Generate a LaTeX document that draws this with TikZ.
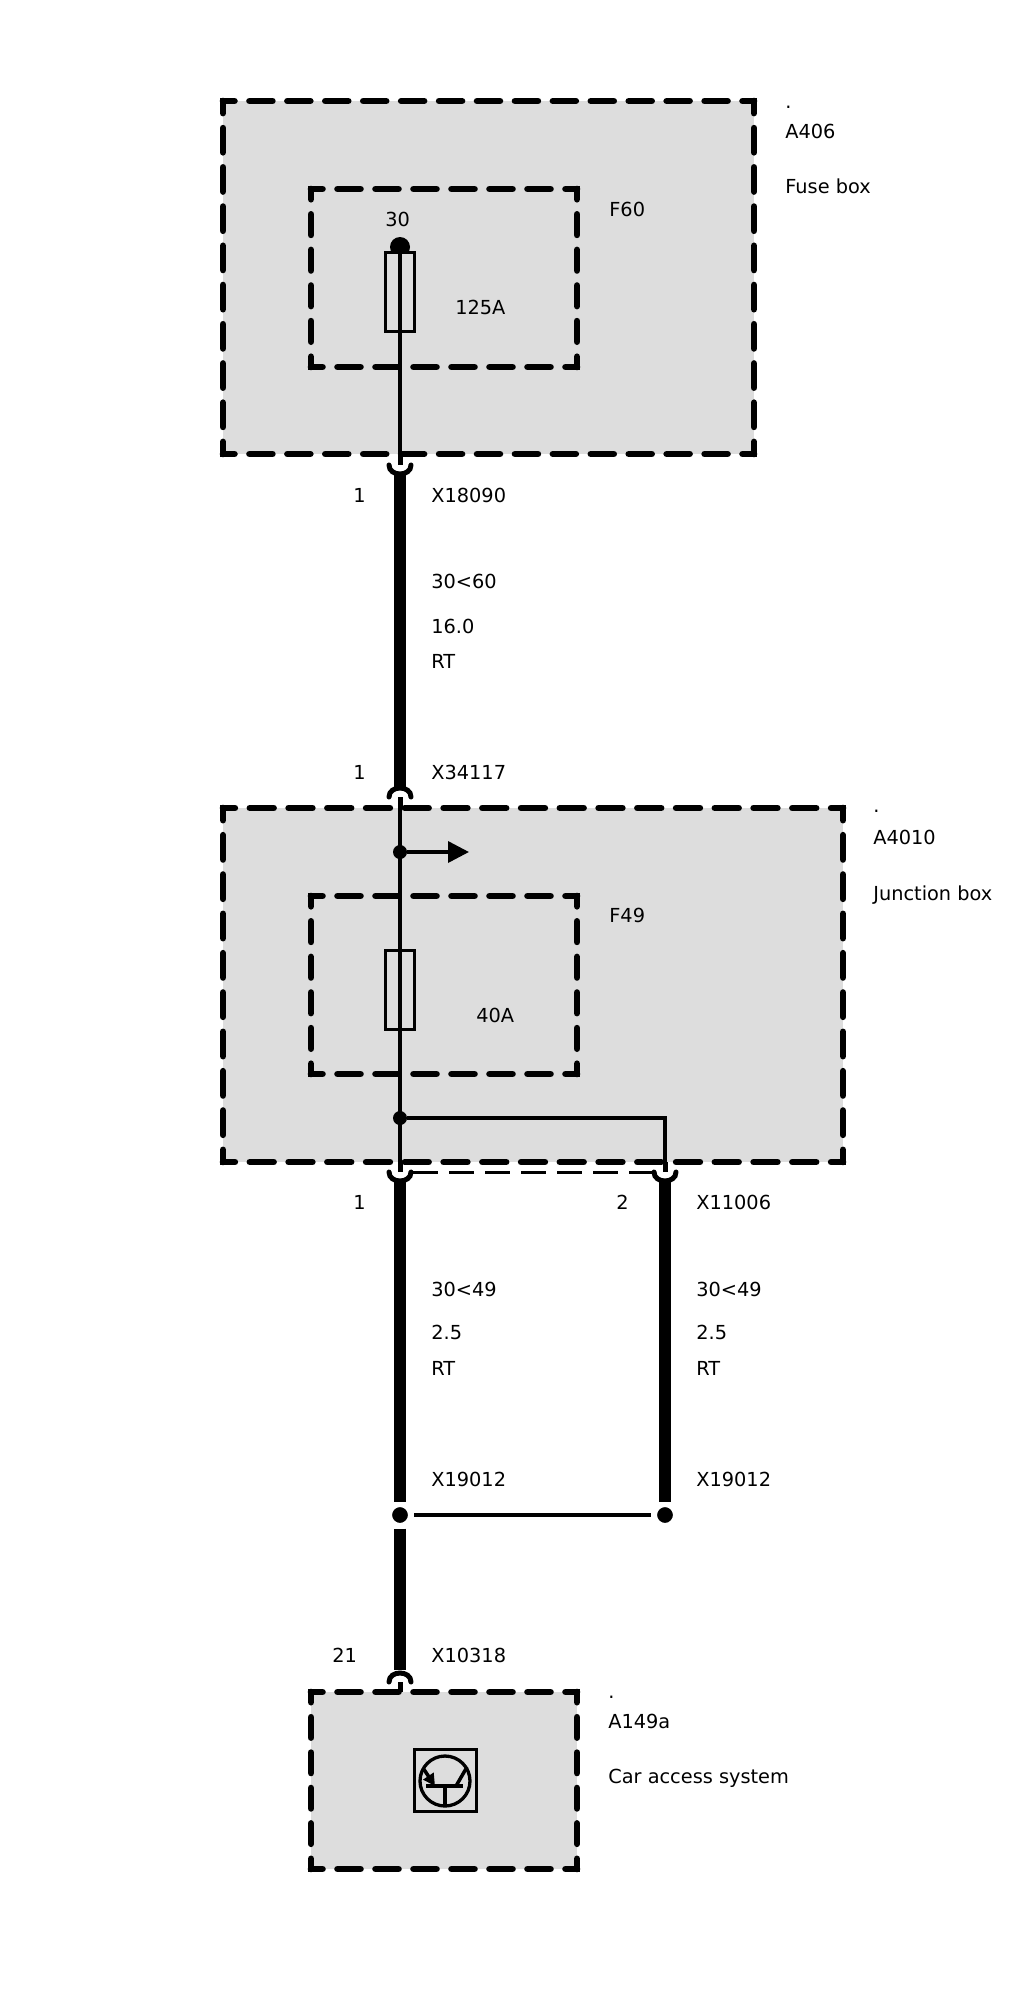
\documentclass[tikz,border=0pt]{standalone}
\usepackage{fontspec}
\setmainfont{DejaVu Sans}
\usetikzlibrary{arrows.meta}
\definecolor{boxgray}{RGB}{221,221,221}
\newcommand{\px}{0.02cm}
\tikzset{
  dashbox/.style 2 args={fill=boxgray,minimum width=#1*\px,minimum height=#2*\px,inner sep=0,outer sep=0},
  innerbox/.style 2 args={dashbox={#1}{#2},fill=none},
  dashside/.style={line width=6.6*\px,line cap=round,dash pattern=on (#1-15)*\px off 15*\px,dash phase=(#1-15)/2*\px},
  fuse/.style={draw,fill=boxgray,line width=3*\px,minimum width=29*\px,minimum height=79*\px,inner sep=0,outer sep=0},
  blob/.style={circle,fill=black,inner sep=0,outer sep=0,minimum size=#1*\px},
  lab/.style={inner sep=0,anchor=west,text height=7.5pt,text depth=0pt,font=\fontsize{11}{13}\selectfont},
  thinwire/.style={line width=3.5*\px},
  stub/.style={line width=5*\px},
  thickwire/.style={line width=12*\px},
  fork/.style={line width=5*\px,line cap=round}
}
\begin{document}
\begin{tikzpicture}[x=0.02cm,y=-0.02cm]
  \useasboundingbox (0,0) rectangle (1026,1998);

  % boxes
  \node[dashbox={531}{353}] (fusebox) at (488.5,277.5) {};
  \node[dashbox={620}{354}] (junctionbox) at (533,985) {};
  \node[dashbox={266}{177}] (accessbox) at (444,1780.5) {};
  \node[innerbox={266}{178}] (boxfsixty) at (444,278) {};
  \node[innerbox={266}{178}] (boxffortynine) at (444,985) {};
  \foreach \b/\w/\h in {fusebox/531/353,junctionbox/620/354,accessbox/266/177,boxfsixty/266/178,boxffortynine/266/178} {
    \pgfmathsetmacro{\pw}{\w/round(\w/38)}
    \pgfmathsetmacro{\ph}{\h/round(\h/38)}
    \draw[dashside=\pw] (\b.north west) -- (\b.north east);
    \draw[dashside=\pw] (\b.south west) -- (\b.south east);
    \draw[dashside=\ph] (\b.north west) -- (\b.south west);
    \draw[dashside=\ph] (\b.north east) -- (\b.south east);
    \foreach \c in {north west,north east,south west,south east}
      \fill (\b.\c) ++(-3.3,-3.3) rectangle ++(6.6,6.6);
  }

  % pins and joints
  \coordinate (pinA) at (400,454);
  \coordinate (pinAend) at (400,465);
  \coordinate (pinB) at (400,808);
  \coordinate (pinBend) at (400,797);
  \coordinate (pinC) at (400,1162);
  \coordinate (pinCend) at (400,1172);
  \coordinate (pinD) at (665,1162);
  \coordinate (pinDend) at (665,1172);
  \coordinate (pinE) at (400,1692);
  \coordinate (pinEend) at (400,1682);
  \coordinate (wireA) at (400,473);
  \coordinate (wireB) at (400,788);
  \coordinate (wireC) at (400,1180);
  \coordinate (wireD) at (665,1180);
  \coordinate (wireE) at (400,1670);
  \coordinate (corner) at (665,1118);
  \coordinate (arrowend) at (469,852);
  \coordinate (shieldA) at (413,1172);
  \coordinate (shieldB) at (652,1172);

  % fuses
  \node[blob=20] (terminal) at (400,247) {};
  \node[fuse] (fsixty) at (400,291.5) {};
  \node[fuse] (fffortynine) at (400,990) {};
  \node[blob=14] (jointA) at (400,852) {};
  \node[blob=14] (jointB) at (400,1118) {};
  \node[blob=20,draw=white,line width=5*\px,minimum size=21*\px] (spliceA) at (400,1515) {};
  \node[blob=20,draw=white,line width=5*\px,minimum size=21*\px] (spliceB) at (665,1515) {};

  % wires
  \draw[thinwire] (terminal.center) -- (pinA);
  \draw[thinwire] (pinB) -- (pinC);
  \draw[stub] (pinA) -- (pinAend);
  \draw[stub] (pinB) -- (pinBend);
  \draw[stub] (pinC) -- (pinCend);
  \draw[stub] (pinD) -- (pinDend);
  \draw[stub] (pinE) -- (pinEend);
  \draw[thickwire] (wireA) -- (wireB);
  \draw[thickwire,shorten >=3*\px] (wireC) -- (spliceA.north);
  \draw[thickwire,shorten >=3*\px] (wireD) -- (spliceB.north);
  \draw[thickwire,shorten <=3*\px] (spliceA.south) -- (wireE);
  \draw[thinwire] (jointB) -- (corner) -- (pinD);
  \draw[thinwire,-{Triangle[length=21*\px,width=21*\px]}] (jointA) -- (arrowend);
  \draw[line width=3*\px,dash pattern=on 25*\px off 11*\px] (shieldA) -- (shieldB);
  \draw[thinwire,shorten <=3.5*\px,shorten >=3.5*\px] (spliceA) -- (spliceB);

  % forks
  \foreach \x/\y in {400/465,400/1172,665/1172}
    \draw[fork] (\x-11,\y) .. controls (\x-11,\y+12) and (\x+11,\y+12) .. (\x+11,\y);
  \foreach \x/\y in {400/797,400/1682}
    \draw[fork] (\x-11,\y) .. controls (\x-11,\y-12) and (\x+11,\y-12) .. (\x+11,\y);

  % control unit symbol
  \node[draw,line width=3*\px,minimum size=62*\px,inner sep=0,outer sep=0] (ecu) at (445,1780.5) {};
  \node[draw,circle,line width=3.3*\px,minimum size=50*\px,inner sep=0,outer sep=0] (trans) at (445,1781) {};
  \coordinate (base) at (445,1786);
  \coordinate (barL) at (426,1786);
  \coordinate (barR) at (463,1786);
  \coordinate (coll) at (467,1767);
  \coordinate (collB) at (456,1786);
  \coordinate (emit) at (423,1768);
  \coordinate (emitB) at (435,1786);
  \draw[thinwire] (barL) -- (barR);
  \draw[thinwire] (base) -- (trans.south);
  \draw[thinwire] (collB) -- (coll);
  \draw[thinwire,-{Triangle[length=12*\px,width=12*\px]}] (emit) -- (emitB);

  % texts
  \node[lab] (dotA) at (785,102) {.};
  \node[lab] (nameA) at (785,132) {A406};
  \node[lab] (descA) at (785,187) {Fuse box};
  \node[lab] (fsixtyname) at (609,210) {F60};
  \node[lab] (termname) at (385,220) {30};
  \node[lab] (ampA) at (455,308) {125A};
  \node[lab] (numA) at (353,496) {1};
  \node[lab] (connA) at (431,496) {X18090};
  \node[lab] (circA) at (431,582) {30<60};
  \node[lab] (sizeA) at (431,627) {16.0};
  \node[lab] (colA) at (431,662) {RT};
  \node[lab] (numB) at (353,773) {1};
  \node[lab] (connB) at (431,773) {X34117};
  \node[lab] (dotB) at (873,806) {.};
  \node[lab] (nameB) at (873,838) {A4010};
  \node[lab] (descB) at (873,894) {Junction box};
  \node[lab] (ffortyninename) at (609,916) {F49};
  \node[lab] (ampB) at (476,1016) {40A};
  \node[lab] (numC) at (353,1203) {1};
  \node[lab] (numD) at (616,1203) {2};
  \node[lab] (connD) at (696,1203) {X11006};
  \node[lab] (circC) at (431,1290) {30<49};
  \node[lab] (sizeC) at (431,1333) {2.5};
  \node[lab] (colC) at (431,1369) {RT};
  \node[lab] (circD) at (696,1290) {30<49};
  \node[lab] (sizeD) at (696,1333) {2.5};
  \node[lab] (colD) at (696,1369) {RT};
  \node[lab] (connE) at (431,1480) {X19012};
  \node[lab] (connF) at (696,1480) {X19012};
  \node[lab] (numG) at (332,1656) {21};
  \node[lab] (connG) at (431,1656) {X10318};
  \node[lab] (dotC) at (608,1692) {.};
  \node[lab] (nameC) at (608,1722) {A149a};
  \node[lab] (descC) at (608,1777) {Car access system};
\end{tikzpicture}
\end{document}
